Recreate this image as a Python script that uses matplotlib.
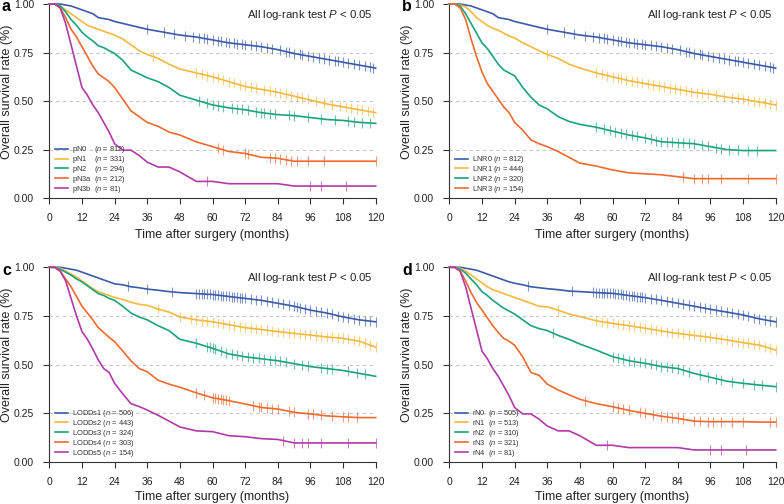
import numpy as np
import matplotlib
matplotlib.use('Agg')
import matplotlib.pyplot as plt

plt.rcParams['font.family'] = ['Liberation Sans', 'DejaVu Sans']
plt.rcParams['mathtext.fontset'] = 'custom'
plt.rcParams['mathtext.rm'] = 'Liberation Sans'
plt.rcParams['mathtext.it'] = 'Liberation Sans:italic'

months = [0, 2, 4, 6, 8, 10, 12, 14, 16, 18, 20, 22, 24, 27, 30, 33, 36, 40, 44, 48,
          54, 60, 66, 72, 78, 84, 90, 96, 102, 108, 114, 120]

colors = ["#3a5ba8", "#f5b93f", "#1aa37a", "#f06a30", "#b03aa8"]

# ---- panel a : pN
pN0 = [1, 1, 1, .995, .99, .98, .97, .96, .95, .93, .925, .92, .91, .90, .89, .88, .87, .86, .85, .84,
       .83, .815, .80, .79, .78, .765, .745, .73, .715, .70, .685, .67]
pN1 = [1, 1, .99, .97, .95, .93, .91, .89, .88, .87, .86, .85, .84, .82, .79, .76, .74, .72, .69, .665,
       .645, .625, .60, .575, .56, .545, .525, .505, .485, .47, .455, .44]
pN2 = [1, 1, .99, .96, .92, .89, .855, .83, .81, .785, .775, .76, .745, .71, .66, .64, .62, .60, .57, .53,
       .505, .48, .465, .455, .44, .43, .425, .415, .405, .40, .39, .385]
pN3a = [1, 1, .98, .93, .87, .83, .78, .73, .68, .64, .62, .60, .57, .51, .45, .42, .39, .37, .34, .325,
        .29, .265, .24, .23, .21, .205, .19, .19, .19, .19, .19, .19]
pN3b = [1, 1, .98, .90, .79, .68, .57, .53, .48, .44, .39, .34, .28, .247, .247, .22, .185, .16, .16, .135,
        .086, .086, .074, .074, .074, .074, .062, .062, .062, .062, .062, .062]

cens_pN0 = [36, 42, 46, 50, 53, 55, 57, 58, 60, 62, 63, 65, 66, 68, 69, 71, 72, 74, 76, 78, 80, 82, 85,
            87, 88, 90, 92, 93, 95, 97, 99, 101, 103, 105, 106, 108, 110, 112, 114, 116, 118, 119]
cens_pN1 = [38, 54, 56, 58, 60, 62, 64, 66, 68, 70, 72, 74, 76, 79, 81, 83, 85, 87, 89, 91, 93, 95,
            98, 101, 104, 107, 109, 111, 113, 115, 117, 119]
cens_pN2 = [55, 58, 60, 62, 64, 67, 69, 71, 73, 76, 78, 79, 81, 83, 88, 90, 95, 100, 105, 110, 112, 115, 118]
cens_pN3a = [62, 64, 72, 73, 81, 83, 85, 87, 89, 91, 95, 101, 120]
cens_pN3b = [58, 96, 100, 109]

# ---- panel b : LNR
LNR0 = pN0
LNR1 = [1, 1, .995, .985, .96, .93, .91, .89, .875, .865, .85, .835, .825, .80, .78, .76, .74, .72, .69, .67,
        .645, .625, .605, .59, .575, .56, .545, .535, .52, .51, .495, .48]
LNR2 = [1, 1, .99, .95, .90, .85, .80, .77, .73, .69, .66, .645, .63, .57, .52, .48, .46, .42, .395, .38,
        .365, .345, .325, .31, .29, .285, .28, .265, .25, .245, .245, .245]
LNR3 = [1, 1, .98, .92, .82, .73, .65, .59, .55, .51, .47, .44, .39, .35, .30, .28, .265, .24, .21, .18,
        .165, .145, .13, .125, .12, .11, .10, .10, .10, .10, .10, .10]

cens_LNR0 = cens_pN0
cens_LNR1 = [36, 54, 56, 58, 60, 62, 63, 65, 67, 69, 71, 73, 75, 77, 79, 81, 83, 85, 87, 89, 91, 93, 95,
             98, 101, 104, 106, 108, 110, 112, 114, 116, 118, 120]
cens_LNR2 = [54, 57, 59, 61, 63, 65, 67, 69, 72, 74, 76, 78, 80, 82, 84, 86, 88, 90, 93, 95, 98, 100,
             103, 106, 110, 113]
cens_LNR3 = [86, 90, 93, 95, 100, 110, 120]

# ---- panel c : LODDs
LODDs1 = [1, 1, 1, .995, .99, .985, .975, .965, .955, .945, .935, .925, .915, .91, .90, .895, .888, .882, .875, .87,
          .865, .86, .85, .84, .83, .815, .80, .78, .765, .745, .73, .72]
LODDs2 = [1, 1, .995, .98, .965, .95, .93, .91, .89, .875, .865, .855, .845, .835, .82, .81, .805, .785, .77, .745,
          .73, .72, .705, .69, .68, .67, .66, .652, .642, .635, .62, .59]
LODDs3 = [1, 1, .99, .975, .96, .94, .925, .905, .885, .865, .855, .84, .83, .80, .765, .745, .73, .70, .675, .63,
          .61, .584, .555, .54, .53, .52, .505, .49, .48, .47, .455, .44]
LODDs4 = [1, 1, .98, .94, .90, .85, .80, .765, .73, .69, .665, .64, .618, .57, .52, .48, .464, .42, .40, .384,
          .355, .33, .315, .298, .28, .272, .255, .247, .237, .232, .228, .228]
LODDs5 = [1, 1, .98, .93, .84, .75, .67, .63, .58, .524, .48, .46, .404, .35, .30, .285, .267, .24, .21, .18,
          .16, .156, .135, .13, .12, .116, .098, .098, .098, .098, .098, .098]

cens_LODDs1 = [29, 36, 45, 54, 55, 56, 57, 58, 59, 60, 61, 62, 63, 64, 65, 66, 67, 68, 69, 70, 71, 72, 74,
               76, 78, 80, 82, 84, 86, 88, 90, 91, 92, 94, 96, 98, 100, 102, 104, 106, 108, 110, 112,
               114, 116, 118, 120]
cens_LODDs2 = [40, 48, 52, 54, 56, 58, 60, 62, 64, 66, 68, 70, 72, 74, 76, 78, 80, 82, 84, 86, 88, 90,
               92, 94, 96, 98, 100, 102, 104, 106, 108, 110, 112, 114, 116, 118, 120]
cens_LODDs3 = [54, 58, 59, 60, 61, 63, 65, 67, 69, 71, 73, 75, 77, 79, 81, 83, 85, 87, 90, 93, 95, 100,
               102, 104, 110, 113, 116]
cens_LODDs4 = [54, 57, 60, 61, 62, 63, 64, 65, 66, 75, 77, 78, 80, 82, 84, 88, 90, 95, 97, 100, 104,
               108, 110, 113]
cens_LODDs5 = [86, 90, 93, 95, 100, 110, 120]

# ---- panel d : rN
rN0 = [1, 1, 1, .995, .99, .985, .975, .965, .955, .945, .935, .925, .918, .91, .90, .895, .89, .885, .878, .875,
       .87, .866, .855, .844, .83, .815, .80, .784, .77, .755, .735, .72]
rN1 = [1, 1, .995, .98, .96, .94, .92, .90, .885, .875, .865, .855, .845, .83, .815, .80, .797, .78, .76, .747,
       .725, .712, .70, .687, .673, .66, .65, .64, .627, .613, .60, .575]
rN2 = [1, 1, .99, .97, .94, .91, .875, .855, .83, .81, .79, .775, .76, .73, .70, .685, .675, .65, .63, .606,
       .575, .541, .52, .507, .49, .48, .455, .435, .415, .404, .395, .387]
rN3 = [1, 1, .98, .93, .87, .82, .78, .74, .70, .665, .635, .62, .60, .54, .46, .445, .40, .37, .345, .322,
       .30, .284, .265, .25, .235, .224, .21, .207, .207, .207, .205, .205]
rN4 = pN3b

cens_rN0 = [29, 45, 53, 54, 55, 56, 57, 58, 59, 60, 61, 62, 63, 64, 65, 66, 67, 68, 69, 70, 71, 72, 74,
            76, 78, 80, 82, 84, 86, 88, 90, 92, 94, 96, 98, 100, 102, 104, 106, 108, 110, 112, 114,
            116, 118, 120]
cens_rN1 = [40, 54, 56, 58, 60, 62, 64, 66, 68, 70, 72, 74, 76, 78, 80, 82, 84, 86, 88, 90, 92, 94, 96,
            98, 100, 102, 104, 106, 108, 110, 112, 114, 116, 118, 120]
cens_rN2 = [38, 60, 62, 64, 66, 68, 70, 72, 74, 76, 78, 80, 82, 84, 86, 88, 92, 95, 98, 100, 104, 108,
            112, 115, 120]
cens_rN3 = [50, 60, 62, 64, 66, 70, 72, 75, 78, 80, 82, 84, 86, 90, 92, 95, 97, 100, 104, 108, 118, 120]
cens_rN4 = cens_pN3b

panels = [
    ('a', [pN0, pN1, pN2, pN3a, pN3b],
     [cens_pN0, cens_pN1, cens_pN2, cens_pN3a, cens_pN3b],
     ['pN0    ($n$ = 812)', 'pN1    ($n$ = 331)', 'pN2    ($n$ = 294)',
      'pN3a  ($n$ = 212)', 'pN3b  ($n$ = 81)']),
    ('b', [LNR0, LNR1, LNR2, LNR3],
     [cens_LNR0, cens_LNR1, cens_LNR2, cens_LNR3],
     ['LNR0 ($n$ = 812)', 'LNR1 ($n$ = 444)', 'LNR2 ($n$ = 320)', 'LNR3 ($n$ = 154)']),
    ('c', [LODDs1, LODDs2, LODDs3, LODDs4, LODDs5],
     [cens_LODDs1, cens_LODDs2, cens_LODDs3, cens_LODDs4, cens_LODDs5],
     ['LODDs1 ($n$ = 506)', 'LODDs2 ($n$ = 443)', 'LODDs3 ($n$ = 324)',
      'LODDs4 ($n$ = 303)', 'LODDs5 ($n$ = 154)']),
    ('d', [rN0, rN1, rN2, rN3, rN4],
     [cens_rN0, cens_rN1, cens_rN2, cens_rN3, cens_rN4],
     ['rN0  ($n$ = 505)', 'rN1  ($n$ = 513)', 'rN2  ($n$ = 310)',
      'rN3  ($n$ = 321)', 'rN4  ($n$ = 81)']),
]

# axes boxes in figure fractions [left, bottom, width, height]
boxes = [[0.0629, 0.607, 0.4163, 0.385],
         [0.5731, 0.607, 0.4163, 0.385],
         [0.0629, 0.0833, 0.4163, 0.3864],
         [0.5731, 0.0833, 0.4163, 0.3864]]
xlabel_y = [-0.188, -0.188, -0.178, -0.178]

fig = plt.figure(figsize=(7.84, 5.04), dpi=100)
t = np.array(months, dtype=float)

for (letter, curves, censors, labels), box, xly in zip(panels, boxes, xlabel_y):
    ax = fig.add_axes(box)
    for y in [0.25, 0.5, 0.75]:
        ax.plot([0, 120], [y, y], ls=(0, (3, 3)), color='#c8c8c8', lw=0.8, zorder=1)
    for i, (surv, cens, lab) in enumerate(zip(curves, censors, labels)):
        c = colors[i]
        s = np.array(surv, dtype=float)
        ax.plot(t, s, color=c, lw=1.2, label=lab, zorder=3, clip_on=False)
        ct = np.array(cens, dtype=float)
        ax.plot(ct, np.interp(ct, t, s), ls='none', marker='|', ms=6.5, mew=0.8, color=c,
                alpha=0.65, zorder=4, clip_on=False)
    ax.set_xlim(0, 120)
    ax.set_ylim(0, 1)
    ax.set_xticks(np.arange(0, 121, 12))
    ax.set_yticks([0, 0.25, 0.5, 0.75, 1.0])
    ax.set_yticklabels(['0.00', '0.25', '0.50', '0.75', '1.00'])
    ax.spines['top'].set_visible(False)
    ax.spines['right'].set_visible(False)
    ax.spines['left'].set_color('#333333')
    ax.spines['bottom'].set_color('#333333')
    ax.tick_params(direction='out', length=4, width=0.8, color='#333333', labelsize=7.5,
                   labelcolor='#222222')
    ax.tick_params(axis='y', pad=7)
    ax.tick_params(axis='x', pad=6.5)
    ax.set_xlabel('Time after surgery (months)', fontsize=9, color='#222222', va='center')
    ax.set_ylabel('Overall survival rate (%)', fontsize=9, color='#222222')
    ax.xaxis.set_label_coords(0.5, xly)
    ax.yaxis.set_label_coords(-0.112, 0.55)
    ax.text(0.99, 0.945, 'All log-rank test $P$ < 0.05', transform=ax.transAxes,
            ha='right', va='center', fontsize=8.2, color='#222222')
    ax.text(-0.145, 0.985, letter, transform=ax.transAxes, ha='left', va='center',
            fontsize=11.5, fontweight='bold')
    lgd = ax.legend(loc='lower left', bbox_to_anchor=(0.0, -0.01), frameon=False, fontsize=5.4,
                    handlelength=1.8, handletextpad=0.5, labelspacing=-0.15, borderaxespad=0.3)
    for txt in lgd.get_texts():
        txt.set_color('#333333')

plt.savefig('out.png', dpi=100)
plt.close()
